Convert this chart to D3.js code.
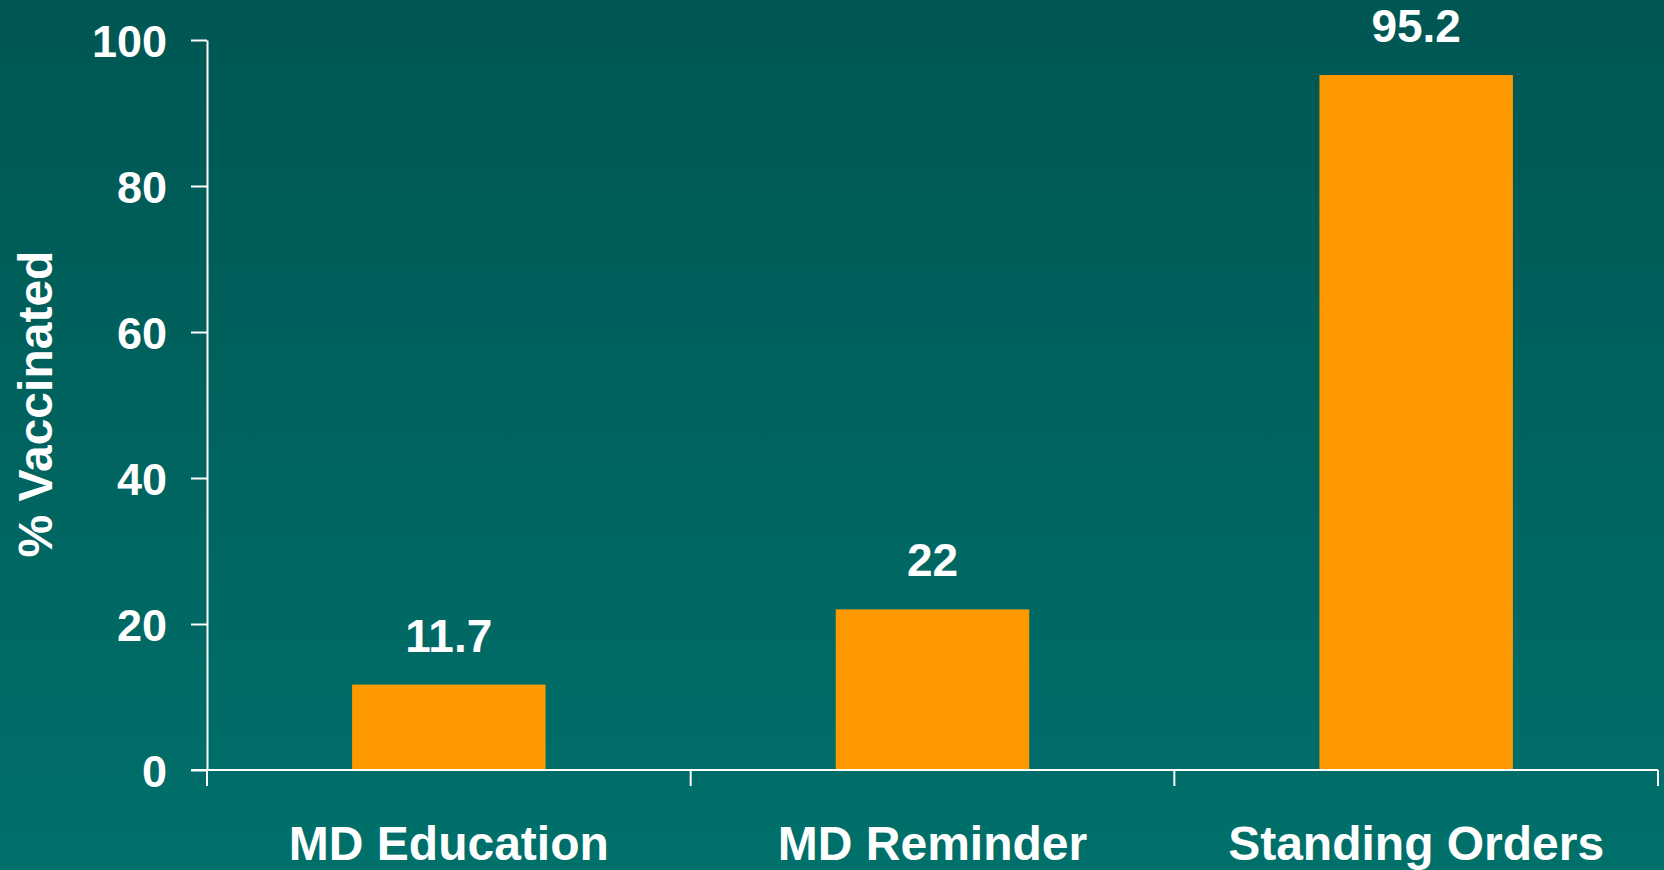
<!DOCTYPE html>
<html>
<head>
<meta charset="utf-8">
<script src="https://cdn.jsdelivr.net/npm/d3@7"></script>
<style>
  html, body { margin: 0; padding: 0; overflow: hidden; }
  svg { display: block; font-family: "Liberation Sans", Arial, sans-serif; font-weight: bold; }
</style>
</head>
<body>
<div id="chart"></div>
<script>
let categories = ["MD Education", "MD Reminder", "Standing Orders"];
let values = [11.7, 22, 95.2];
let valueLabels = ["11.7", "22", "95.2"];
let yTicks = [0, 20, 40, 60, 80, 100];

let width = 1664, height = 870;
let margin = {left: 207, right: 6, top: 40, bottom: 100};

let svg = d3.select("#chart").append("svg")
    .attr("width", width)
    .attr("height", height);

// background gradient, darker teal at the top
let grad = svg.append("defs").append("linearGradient")
    .attr("id", "bg").attr("x1", 0).attr("y1", 0).attr("x2", 0).attr("y2", 1);
grad.append("stop").attr("offset", "0%").attr("stop-color", "#005652");
grad.append("stop").attr("offset", "100%").attr("stop-color", "#00706b");
svg.append("rect").attr("width", width).attr("height", height).attr("fill", "url(#bg)");

let x = d3.scaleBand().domain(categories).range([margin.left, width - margin.right]).padding(0);
let y = d3.scaleLinear().domain([0, 100]).range([height - margin.bottom, margin.top]);

let chartGroup = svg.append("g");

// bars
let barW = x.bandwidth() * 0.4;
chartGroup.selectAll("rect.bar")
    .data(values)
    .enter().append("rect")
    .attr("class", "bar")
    .attr("x", function(d, i){ return x(categories[i]) + (x.bandwidth() - barW) / 2; })
    .attr("y", function(d){ return y(d); })
    .attr("width", barW)
    .attr("height", function(d){ return y(0) - y(d); })
    .attr("fill", "#ff9900");

// value labels
chartGroup.selectAll("text.val")
    .data(values)
    .enter().append("text")
    .attr("class", "val")
    .text(function(d, i){ return valueLabels[i]; })
    .attr("x", function(d, i){ return x(categories[i]) + x.bandwidth() / 2; })
    .attr("y", function(d){ return y(d) - 33; })
    .attr("text-anchor", "middle")
    .attr("font-size", 46)
    .attr("fill", "white");

// y axis
let yAxis = svg.append("g")
    .attr("transform", "translate(" + margin.left + ",0)")
    .call(d3.axisLeft(y).tickValues(yTicks).tickSize(16).tickSizeOuter(0).tickPadding(24));
yAxis.select(".domain").attr("stroke", "white").attr("stroke-width", 2);
yAxis.selectAll(".tick line").attr("stroke", "white").attr("stroke-width", 2);
yAxis.selectAll(".tick text")
    .attr("fill", "white")
    .attr("font-size", 45)
    .attr("font-family", "Liberation Sans, Arial, sans-serif")
    .attr("font-weight", "bold")
    .attr("dy", "0.36em");

// x axis: labels centred in bands, ticks on the band boundaries
let xAxis = svg.append("g")
    .attr("transform", "translate(0," + y(0) + ")")
    .call(d3.axisBottom(x).tickSize(0).tickSizeOuter(0).tickPadding(56));
xAxis.select(".domain").remove();
xAxis.selectAll(".tick text")
    .attr("fill", "white")
    .attr("font-size", 48)
    .attr("font-family", "Liberation Sans, Arial, sans-serif")
    .attr("font-weight", "bold");

let bounds = categories.map(function(c){ return x(c); }).concat([x(categories[categories.length - 1]) + x.bandwidth()]);
xAxis.append("line")
    .attr("x1", margin.left - 16).attr("x2", bounds[bounds.length - 1])
    .attr("y1", 0).attr("y2", 0)
    .attr("stroke", "white").attr("stroke-width", 2);
xAxis.selectAll("line.bound")
    .data(bounds)
    .enter().append("line")
    .attr("class", "bound")
    .attr("x1", function(d){ return d; }).attr("x2", function(d){ return d; })
    .attr("y1", 0).attr("y2", 16)
    .attr("stroke", "white").attr("stroke-width", 2);

// y axis title
svg.append("text")
    .text("% Vaccinated")
    .attr("transform", "translate(52," + ((y(0) + y(100)) / 2 - 1) + ") rotate(-90)")
    .attr("text-anchor", "middle")
    .attr("font-size", 48)
    .attr("fill", "white");
</script>
</body>
</html>
